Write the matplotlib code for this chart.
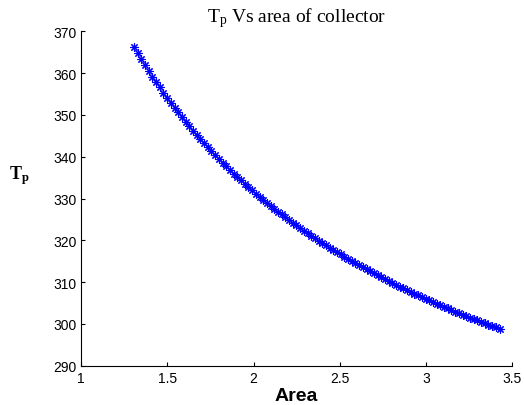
import matplotlib
matplotlib.use('Agg')
import matplotlib.pyplot as plt

# fonts: MATLAB-ish look (Helvetica ticks, Times title)
plt.rcParams['font.family'] = ['Liberation Sans', 'DejaVu Sans']
plt.rcParams['mathtext.fontset'] = 'custom'
plt.rcParams['mathtext.rm'] = 'Liberation Serif'
plt.rcParams['mathtext.bf'] = 'Liberation Serif:bold'

# collector area
area = [1.307, 1.328, 1.350, 1.371, 1.393, 1.414, 1.435, 1.457, 1.478, 1.500,
        1.521, 1.542, 1.564, 1.585, 1.607, 1.628, 1.649, 1.671, 1.692, 1.714,
        1.735, 1.756, 1.778, 1.799, 1.821, 1.842, 1.863, 1.885, 1.906, 1.928,
        1.949, 1.970, 1.992, 2.013, 2.035, 2.056, 2.077, 2.099, 2.120, 2.142,
        2.163, 2.184, 2.206, 2.227, 2.249, 2.270, 2.291, 2.313, 2.334, 2.356,
        2.377, 2.398, 2.420, 2.441, 2.463, 2.484, 2.505, 2.527, 2.548, 2.570,
        2.591, 2.612, 2.634, 2.655, 2.677, 2.698, 2.719, 2.741, 2.762, 2.784,
        2.805, 2.826, 2.848, 2.869, 2.891, 2.912, 2.933, 2.955, 2.976, 2.998,
        3.019, 3.040, 3.062, 3.083, 3.105, 3.126, 3.147, 3.169, 3.190, 3.212,
        3.233, 3.254, 3.276, 3.297, 3.319, 3.340, 3.361, 3.383, 3.404, 3.426]

# plate temperature Tp
tp = [366.24, 364.76, 363.31, 361.89, 360.51, 359.16, 357.84, 356.56, 355.31, 354.09,
      352.90, 351.73, 350.58, 349.46, 348.36, 347.29, 346.23, 345.20, 344.20, 343.21,
      342.25, 341.30, 340.36, 339.45, 338.55, 337.67, 336.81, 335.96, 335.13, 334.31,
      333.51, 332.72, 331.94, 331.18, 330.43, 329.69, 328.97, 328.26, 327.56, 326.87,
      326.19, 325.52, 324.86, 324.21, 323.57, 322.95, 322.33, 321.72, 321.12, 320.53,
      319.95, 319.37, 318.80, 318.24, 317.69, 317.15, 316.61, 316.08, 315.56, 315.04,
      314.54, 314.03, 313.54, 313.05, 312.57, 312.09, 311.62, 311.16, 310.70, 310.24,
      309.80, 309.35, 308.92, 308.49, 308.06, 307.64, 307.23, 306.82, 306.41, 306.01,
      305.61, 305.22, 304.83, 304.45, 304.07, 303.69, 303.32, 302.95, 302.59, 302.23,
      301.87, 301.52, 301.17, 300.83, 300.49, 300.15, 299.82, 299.49, 299.16, 298.83]

xticks = [1, 1.5, 2, 2.5, 3, 3.5]
xtick_labels = ['1', '1.5', '2', '2.5', '3', '3.5']
yticks = [290, 300, 310, 320, 330, 340, 350, 360, 370]

fig = plt.figure(figsize=(5.24, 4.06), dpi=100)
ax = fig.add_axes([0.1546, 0.0968, 0.8231, 0.8236])

ax.plot(area, tp, linestyle='none', marker=(8, 2, 0), markersize=6,
        markeredgewidth=0.8, color='#0000ff')

ax.set_xlim(1, 3.5)
ax.set_ylim(290, 370)
ax.set_xticks(xticks)
ax.set_xticklabels(xtick_labels)
ax.set_yticks(yticks)

# box off, ticks pointing inwards
ax.spines['top'].set_visible(False)
ax.spines['right'].set_visible(False)
ax.tick_params(direction='in', length=3, width=0.8, labelsize=10, pad=4)
ax.tick_params(axis='y', pad=3)

ax.set_title(r'$\mathrm{T_p}$ Vs area of collector', fontsize=14,
             family='Liberation Serif', pad=7)
ax.set_xlabel('Area', fontsize=14, fontweight='bold', labelpad=1)
ax.set_ylabel(r'$\mathbf{T_p}$', fontsize=13, rotation=0, ha='center', va='center')
ax.yaxis.set_label_coords(-0.144, 0.573)

fig.savefig('out.png', dpi=100)
